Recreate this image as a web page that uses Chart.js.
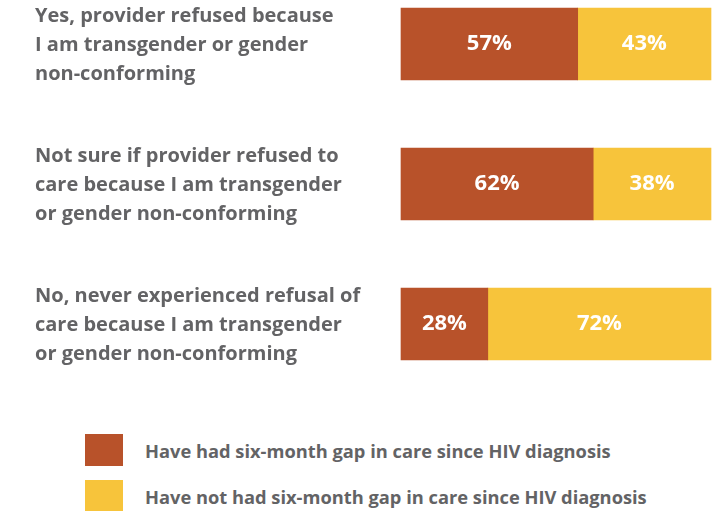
<!DOCTYPE html>
<html>
<head>
<meta charset="utf-8">
<script src="https://cdn.jsdelivr.net/npm/chart.js@4"></script>
<style>
  body { margin: 0; background: #fff; width: 718px; height: 511px; overflow: hidden; position: relative; font-family: "Open Sans", sans-serif; }
  #wrap { position: absolute; left: 0; top: 0; width: 718px; height: 400px; }
  #legend { position: absolute; left: 85px; top: 434px; }
  .item { display: flex; align-items: center; height: 32px; margin-bottom: 14px; }
  .box { width: 38px; height: 32px; margin-right: 22px; }
  .txt { font-weight: bold; font-size: 18.3px; color: #636365; }
</style>
</head>
<body>
<div id="wrap"><canvas id="myChart"></canvas></div>
<div id="legend"></div>
<script>
var categories = [
    ["Yes, provider refused because", "I am transgender or gender", "non-conforming"],
    ["Not sure if provider refused to", "care because I am transgender", "or gender non-conforming"],
    ["No, never experienced refusal of", "care because I am transgender", "or gender non-conforming"]
];
var seriesNames = [
    "Have had six-month gap in care since HIV diagnosis",
    "Have not had six-month gap in care since HIV diagnosis"
];
var hadGap = [57, 62, 28];
var noGap = [43, 38, 72];
var colors = ["#B8522A", "#F7C43B"];

// draws the percentage inside each segment
var barLabels = {
    id: "barLabels",
    afterDraw: function(chart) {
        var ctx = chart.ctx;
        ctx.save();
        ctx.fillStyle = "#fff";
        ctx.font = "bold 22px 'Open Sans', sans-serif";
        ctx.textAlign = "center";
        ctx.textBaseline = "middle";
        chart.data.datasets.forEach(function(ds, i) {
            chart.getDatasetMeta(i).data.forEach(function(bar, j) {
                var x = (bar.x + bar.base) / 2;
                ctx.fillText(ds.data[j] + "%", x, bar.y);
            });
        });
        ctx.restore();
    }
};

let myChart = document.getElementById("myChart").getContext("2d");
let barChart = new Chart(myChart, {
    type: "bar",
    data: {
        labels: categories,
        datasets: [{
            label: seriesNames[0],
            data: hadGap,
            backgroundColor: colors[0],
            clip: false
        }, {
            label: seriesNames[1],
            data: noGap,
            backgroundColor: colors[1],
            clip: false
        }]
    },
    options: {
        indexAxis: "y",
        responsive: true,
        maintainAspectRatio: false,
        animation: false,
        layout: {
            padding: { left: 35, right: 7, top: 44, bottom: 76 }
        },
        datasets: {
            bar: { barThickness: 72 }
        },
        scales: {
            x: {
                stacked: true,
                min: 0,
                max: 100,
                display: false
            },
            y: {
                stacked: true,
                offset: false,
                grid: { display: false },
                border: { display: false },
                afterFit: function(scale) { scale.width = 366; },
                ticks: {
                    crossAlign: "far",
                    color: "#636365",
                    padding: 0,
                    labelOffset: 1,
                    font: { family: "'Open Sans', sans-serif", size: 20, weight: "bold", lineHeight: 1.45 }
                }
            }
        },
        plugins: {
            legend: { display: false },
            tooltip: { enabled: false }
        }
    },
    plugins: [barLabels]
});

var legend = document.getElementById("legend");
seriesNames.forEach(function(name, i) {
    var row = document.createElement("div");
    row.className = "item";
    row.innerHTML = '<div class="box" style="background:' + colors[i] + '"></div><div class="txt">' + name + '</div>';
    legend.appendChild(row);
});
</script>
</body>
</html>
